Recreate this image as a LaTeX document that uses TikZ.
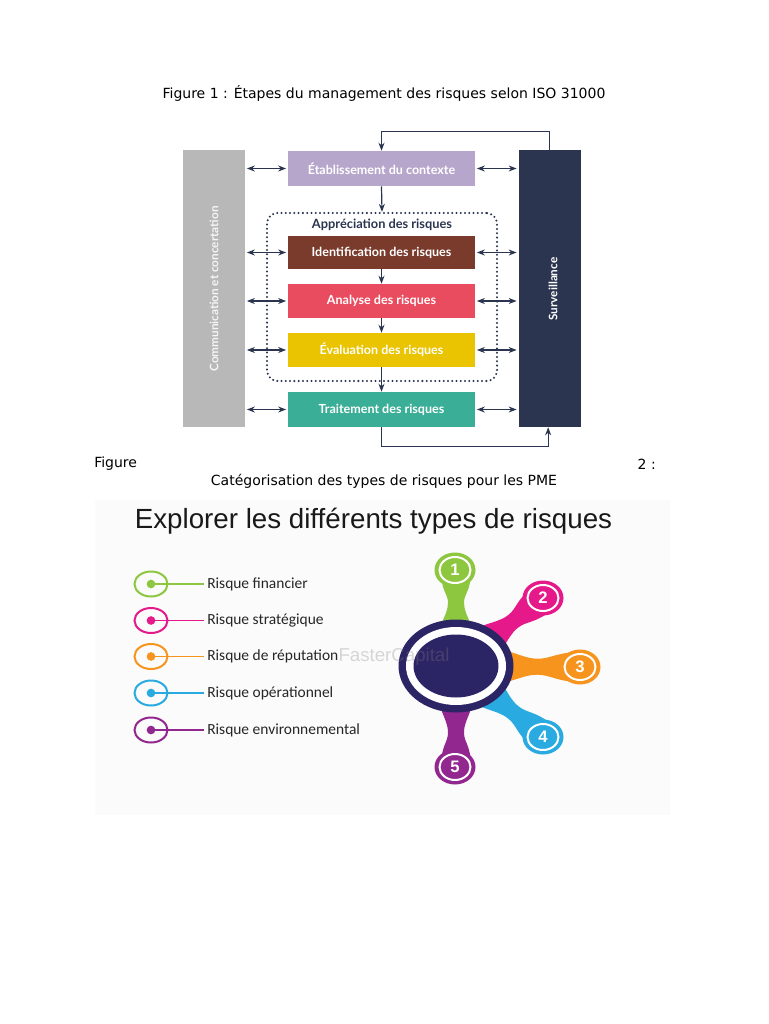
\documentclass[tikz,border=0pt]{standalone}
\usepackage{fontspec}
\setmainfont{DejaVu Sans}
\newfontfamily\boxfont{Lato}
\newfontfamily\arialfont{Liberation Sans}
\newfontfamily\calfont{Carlito}
\usetikzlibrary{arrows.meta,calc}
\definecolor{navyline}{HTML}{2B3550}
\definecolor{barnavy}{HTML}{2B3550}
\definecolor{bargrey}{HTML}{B8B8B8}
\definecolor{clav}{HTML}{B7A6CB}
\definecolor{cbrown}{HTML}{7A3A2C}
\definecolor{cred}{HTML}{EA4C5F}
\definecolor{cyel}{HTML}{EAC400}
\definecolor{cteal}{HTML}{3AAE96}
\definecolor{cgreen}{HTML}{8DC63F}
\definecolor{cmag}{HTML}{E6198A}
\definecolor{corange}{HTML}{F7941D}
\definecolor{cblue}{HTML}{29AAE1}
\definecolor{cpurple}{HTML}{92278F}
\definecolor{hubnavy}{HTML}{2C2565}
\definecolor{bgfig}{HTML}{FBFBFB}
\tikzset{
  stepbox/.style={minimum width={187*0.75pt}, inner sep=0pt, text=white,
    font=\boxfont\bfseries\fontsize{9.4}{11}\selectfont},
  sidebar/.style={minimum width={62*0.75pt}, minimum height={277*0.75pt}, inner sep=0pt},
  dbl/.style={{Stealth[length=6pt,width=4.5pt]}-{Stealth[length=6pt,width=4.5pt]}, draw=navyline, line width=0.9pt},
  sarrow/.style={-{Stealth[length=6pt,width=4.5pt]}, draw=navyline, line width=0.9pt},
  caption/.style={font=\fontsize{10.5}{12.75}\selectfont, text=black, inner sep=0pt},
  legtext/.style={font=\calfont\fontsize{11.6}{13}\selectfont, text=black!85, inner sep=0pt},
  numtext/.style={font=\arialfont\bfseries\fontsize{12.5}{14}\selectfont, text=white, inner sep=0pt}
}
\begin{document}
\begin{tikzpicture}[x=0.75pt,y=-0.75pt]
\useasboundingbox[fill=white] (0,0) rectangle (768,1024);

% ---------- Figure 1 caption
\node[caption] (cap1) at (384,93) {Figure 1 : Étapes du management des risques selon ISO 31000};

% ---------- Figure 1
\node[sidebar, fill=bargrey] (comm) at (214,288.5) {};
\node[sidebar, fill=barnavy] (surv) at (549.5,288.5) {};
\node[rotate=90, text=white!92!gray, font=\boxfont\bfseries\fontsize{8.8}{10}\selectfont] (commtxt) at (214,289) {Communication et concertation};
\node[rotate=90, text=white, font=\boxfont\bfseries\fontsize{8.8}{10}\selectfont] (survtxt) at (553,289) {Surveillance};

\node[draw=navyline, line width=1.7pt, dash pattern=on 0pt off 3.2pt, line cap=round, rounded corners=8pt,
  minimum width={230*0.75pt}, minimum height={168*0.75pt}] (frame) at (382,297) {};
\node[text=navyline, font=\boxfont\bfseries\fontsize{9.6}{11}\selectfont, fill=white, inner sep=1pt] (apptxt) at (382,225) {Appréciation des risques};

\node[stepbox, fill=clav, minimum height={35*0.75pt}] (etab) at (381.5,168.5) {Établissement du contexte};
\node[stepbox, fill=cbrown, minimum height={33*0.75pt}] (ident) at (381.5,252.5) {Identification des risques};
\node[stepbox, fill=cred, minimum height={34*0.75pt}] (anal) at (381.5,301) {Analyse des risques};
\node[stepbox, fill=cyel, minimum height={34*0.75pt}] (eval) at (381.5,350) {Évaluation des risques};
\node[stepbox, fill=cteal, minimum height={35*0.75pt}] (trait) at (381.5,409.5) {Traitement des risques};

\foreach \b in {etab,ident,anal,eval,trait}{
  \draw[dbl, shorten <=1.2pt, shorten >=1.2pt] (comm.east |- \b.west) -- (\b.west);
  \draw[dbl, shorten <=1.2pt, shorten >=1.2pt] (\b.east) -- (surv.west |- \b.east);
}
\draw[sarrow] (etab.south) -- (frame.north);
\draw[sarrow] (ident.south) -- (anal.north);
\draw[sarrow] (anal.south) -- (eval.north);
\draw[sarrow] (eval.south) -- (trait.north);
\draw[sarrow] (surv.north) -- ++(0,-18) -| (etab.north);
\draw[sarrow] (trait.south) -- ++(0,19) -| ([xshift=-1pt]surv.south);

% ---------- Figure 2 caption
\node[caption, anchor=west] (capfig) at (94,464) {Figure};
\node[caption, anchor=east] (capnum) at (656,464) {2 :};
\node[caption] (cap2) at (384,481) {Catégorisation des types de risques pour les PME};

% ---------- Figure 2 image
\fill[bgfig] (95,500) rectangle (670,815);
\node[font=\arialfont\fontsize{20.8}{24}\selectfont, text=black!90, inner sep=0pt, anchor=base] (title2) at (373.5,528) {Explorer les différents types de risques};

\foreach \y/\c/\t [count=\i] in {584/cgreen/Risque financier, 620.5/cmag/Risque stratégique, 656.5/corange/Risque de réputation, 693/cblue/Risque opérationnel, 730/cpurple/Risque environnemental}{
  \draw[\c, line width=1.5pt] (151,\y) ellipse [x radius=16.5, y radius=12.5];
  \node[legtext, anchor=west] (lab\i) at (207,\y) {\t};
  \node[circle, inner sep=0pt, minimum size=6.5pt, fill=\c] (dot\i) at (151,\y) {};
  \draw[\c, line width=0.8pt] (dot\i.center) -- ([xshift=-2pt]lab\i.west);
}

% stems
\foreach \c/\a/\d in {cgreen/90/96, cmag/38/110, corange/-0.5/124, cblue/-39/112, cpurple/-90/101}{
  \begin{scope}[shift={(456,666)}, rotate=\a]
    \fill[\c] (0,-21) .. controls ({0.45*\d},-21) and ({0.5*\d},-8) .. ({0.66*\d},-8)
      .. controls ({0.76*\d},-8) and ({\d-22},-15) .. (\d,-15) -- (\d,15)
      .. controls ({\d-22},15) and ({0.76*\d},8) .. ({0.66*\d},8)
      .. controls ({0.5*\d},8) and ({0.45*\d},21) .. (0,21) -- cycle;
  \end{scope}
}
% petals
\foreach \c/\x/\y/\n [count=\i] in {cgreen/455/570/1, cmag/543/598/2, corange/580/667/3, cblue/543/737/4, cpurple/455/767/5}{
  \fill[\c] (\x,\y) ellipse [x radius=20.5, y radius=17.5];
  \draw[white, line width=1.5pt] (\x,\y) ellipse [x radius=15.5, y radius=13];
  \node[numtext] (num\i) at (\x,\y) {\n};
}
% hub
\fill[hubnavy] (456,666) ellipse [x radius=57.5, y radius=46.5];
\fill[white] (456,666) ellipse [x radius=50, y radius=39];
\fill[hubnavy] (456,666) ellipse [x radius=42.5, y radius=31.5];
\node[node font=\arialfont\fontsize{14}{16}\selectfont, text=gray, opacity=0.3, inner sep=0pt] (wm) at (394,657) {FasterCapital};
\end{tikzpicture}
\end{document}
